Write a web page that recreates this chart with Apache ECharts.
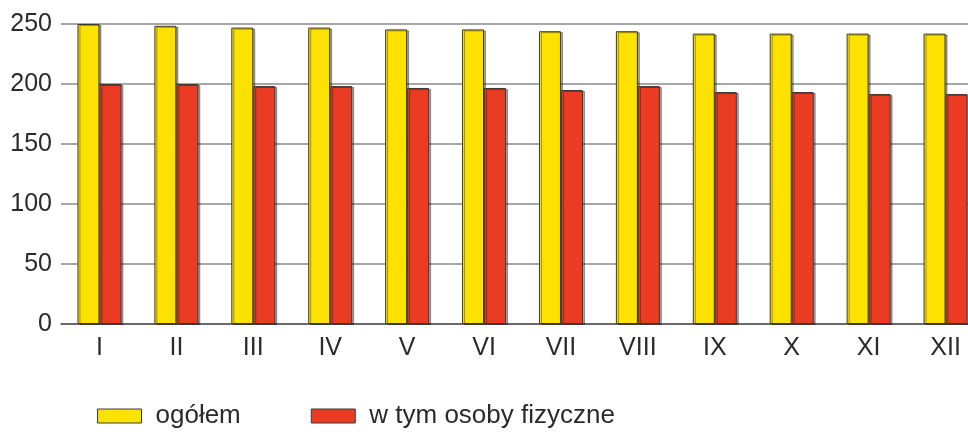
<!DOCTYPE html>
<html>
<head>
<meta charset="utf-8">
<script src="https://cdn.jsdelivr.net/npm/echarts@6/dist/echarts.min.js"></script>
<style>
  html, body { margin: 0; padding: 0; background: #fff; overflow: hidden; }
  /* wykres jest szerszy niż okno - ostatnia kategoria wychodzi poza prawą krawędź */
  #chart { width: 984px; height: 434px; }
</style>
</head>
<body>
<div id="chart"></div>
<script>
  // dane
  var months = ['I', 'II', 'III', 'IV', 'V', 'VI', 'VII', 'VIII', 'IX', 'X', 'XI', 'XII'];
  var ogolem = [250, 248.5, 247, 247, 245.5, 245.5, 244, 244, 242, 242, 242, 242];
  var osobyFizyczne = [200, 200, 198.3, 198.3, 196.7, 196.7, 195, 198.3, 193.3, 193.3, 191.7, 191.7];
  var yTicks = [0, 50, 100, 150, 200, 250];

  var myChart = echarts.init(document.getElementById('chart'));

  var font = 'Liberation Sans, Arial, sans-serif';
  var barStyle = function (c) {
    return {
      color: c,
      borderColor: '#3a3a3a',
      borderWidth: 1,
      shadowColor: 'rgba(0,0,0,0.35)',
      shadowOffsetX: 2,
      shadowOffsetY: 1,
      shadowBlur: 0
    };
  };

  var option = {
    animation: false,
    backgroundColor: '#fff',
    grid: { left: 61, right: 0, top: 24, height: 300 },
    legend: {
      left: 92,
      top: 398,
      icon: 'rect',
      itemWidth: 44,
      itemHeight: 14,
      itemGap: 70,
      textStyle: { fontFamily: font, fontSize: 26, color: '#2b2b2b', padding: [0, 0, 0, 9] },
      data: [
        { name: 'ogółem', itemStyle: { color: '#fde100', borderColor: '#3a3a3a', borderWidth: 1 } },
        { name: 'w tym osoby fizyczne', itemStyle: { color: '#ea3c22', borderColor: '#3a3a3a', borderWidth: 1 } }
      ]
    },
    xAxis: {
      type: 'category',
      data: months,
      axisTick: { show: false },
      axisLine: { lineStyle: { color: '#555', width: 1.5 } },
      axisLabel: { fontFamily: font, fontSize: 25, color: '#2b2b2b', margin: 12 }
    },
    yAxis: {
      type: 'value',
      min: yTicks[0],
      max: yTicks[yTicks.length - 1],
      interval: 50,
      axisLine: { show: false },
      axisTick: { show: false },
      splitLine: { lineStyle: { color: '#8a8a8a', width: 1.5 } },
      axisLabel: { fontFamily: font, fontSize: 25, color: '#2b2b2b', margin: 9 }
    },
    series: [
      {
        name: 'ogółem',
        type: 'bar',
        data: ogolem,
        barWidth: 22,
        barGap: '0%',
        itemStyle: barStyle('#fde100')
      },
      {
        name: 'w tym osoby fizyczne',
        type: 'bar',
        data: osobyFizyczne,
        barWidth: 22,
        barGap: '0%',
        itemStyle: barStyle('#ea3c22')
      }
    ]
  };

  myChart.setOption(option);
</script>
</body>
</html>
